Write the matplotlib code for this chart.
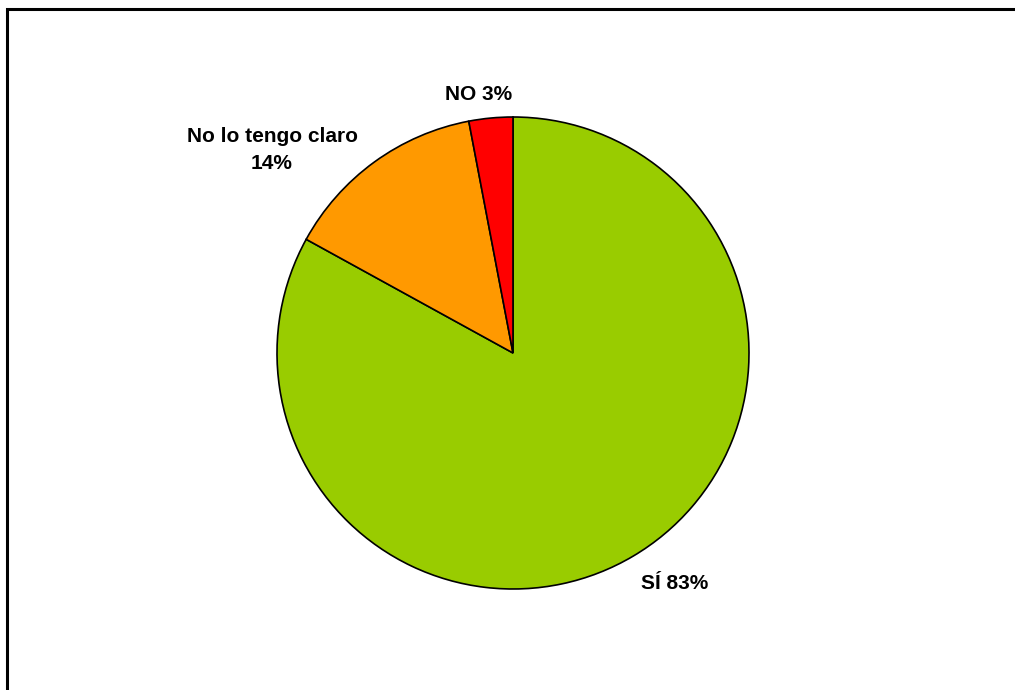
import matplotlib.pyplot as plt
from matplotlib.patches import Rectangle

# Survey answers, in the order they go round the pie (clockwise from 12 o'clock)
answers = ['SÍ', 'No lo tengo claro', 'NO']
percent = [83, 14, 3]
colors = ['#99CC00', '#FF9900', '#FF0000']

plt.rcParams['font.family'] = ['Liberation Sans', 'DejaVu Sans']

fig = plt.figure(figsize=(10.15, 6.9), dpi=100)

# frame around the chart area (only top/left edges fall inside the image)
fig.patches.append(Rectangle((7 / 1015, -0.05), 1.1, 1 - 9 / 690 + 0.05,
                             transform=fig.transFigure, fill=False,
                             edgecolor='black', linewidth=2.2))

# square axes centred on the pie
cx, cy, r = 513 / 1015, 1 - 353 / 690, 236
ax = fig.add_axes([cx - r / 1015, cy - r / 690, 2 * r / 1015, 2 * r / 690])
ax.pie(percent, colors=colors, startangle=90, counterclock=False, radius=1,
       wedgeprops=dict(edgecolor='black', linewidth=1.2))
ax.set_xlim(-1, 1)
ax.set_ylim(-1, 1)
ax.set_aspect('auto')
ax.axis('off')

# label placement, with separator between name and percentage
label_pos = [(0.686, -0.975), (-1.021, 0.86), (-0.144, 1.097)]
label_sep = [' ', '\n', ' ']
for name, pct, (x, y), sep in zip(answers, percent, label_pos, label_sep):
    ax.text(x, y, f'{name}{sep}{pct}%', ha='center', va='center',
            fontsize=15, fontweight='bold', linespacing=1.5, clip_on=False)

fig.savefig('out.png', dpi=100, facecolor='white')
